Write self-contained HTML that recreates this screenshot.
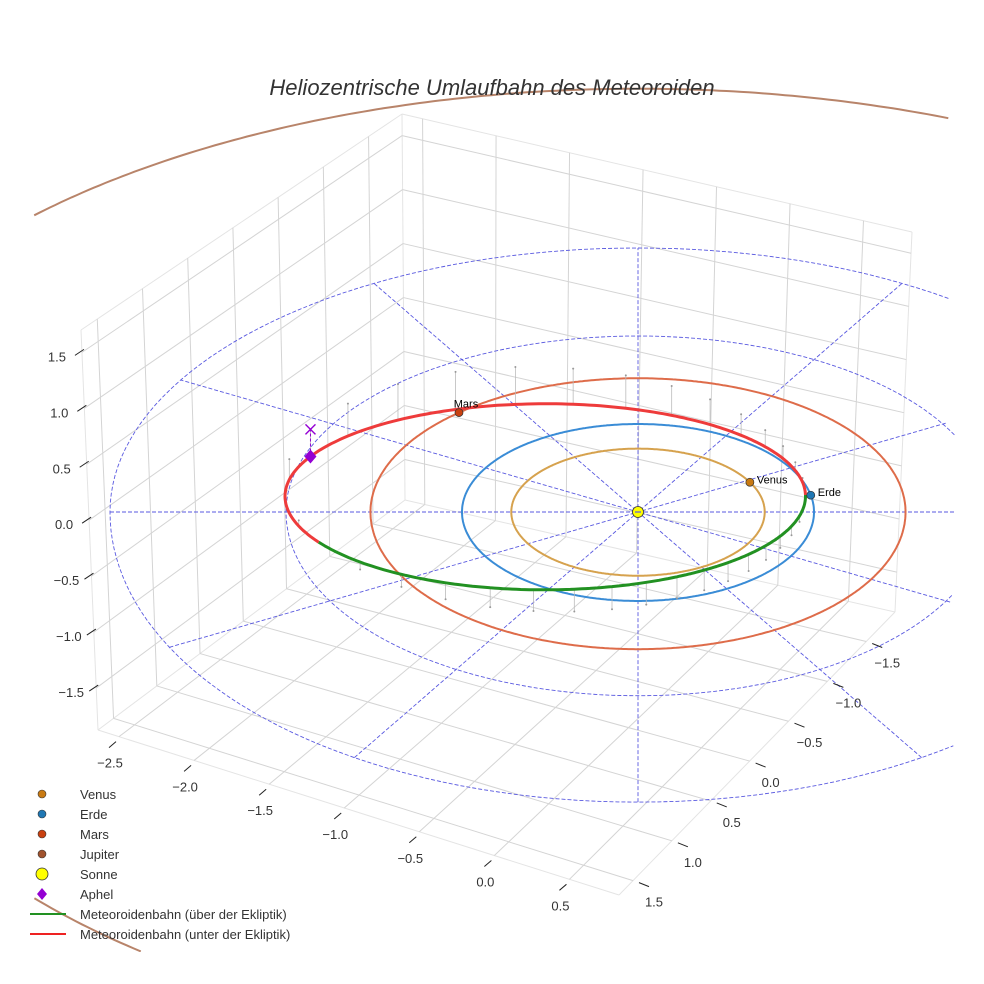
<!DOCTYPE html>
<html><head><meta charset="utf-8"><style>
html,body{margin:0;padding:0;background:#fff;width:984px;height:984px;overflow:hidden;}
svg{display:block;font-family:"Liberation Sans",sans-serif;}
</style></head><body>
<svg id="chart" width="984" height="984" viewBox="0 0 984 984" xmlns="http://www.w3.org/2000/svg">
<defs><clipPath id="axclip"><rect x="30" y="0" width="925" height="952"/></clipPath></defs>
<rect x="0" y="0" width="984" height="984" fill="#fff"/>
<g id="box"></g>
<g id="plot" clip-path="url(#axclip)"></g>
<g id="ticks"></g>
<text x="492" y="95" text-anchor="middle" font-size="22" font-style="italic" fill="#333">Heliozentrische Umlaufbahn des Meteoroiden</text>
<g id="legend"></g>
</svg>
<script>
// ---- data ----
const xTicks=[-2.5,-2.0,-1.5,-1.0,-0.5,0.0,0.5];
const yTicks=[-1.5,-1.0,-0.5,0.0,0.5,1.0,1.5];
const zTicks=[-1.5,-1.0,-0.5,0.0,0.5,1.0,1.5];
const xRange=[-2.64,0.83];
const yRange=[-1.87,1.68];
const zRange=[-1.875,1.7];
const planetNames=['Venus','Erde','Mars','Jupiter'];
const orbitRadii=[0.72,1.0,1.52,4.81];
const planetAngles=[28,11,132,null];
const gridRadii=[1,2,3];
const spokeAngles=[0,30,60,90,120,150];
const meteorP=[1.27];          // semi-latus rectum (AU)
const meteorE=[0.395];         // eccentricity
const meteorOmega=[-38];       // argument of perihelion (deg)
const meteorNode=[10.7];       // ascending node (deg)
const meteorIncl=[-11];        // inclination (deg)
const legendLabels=['Venus','Erde','Mars','Jupiter','Sonne','Aphel','Meteoroidenbahn (über der Ekliptik)','Meteoroidenbahn (unter der Ekliptik)'];

// ---- projection ----
const SX0=638,SY0=512,KX=176,KY=88,KZ=110,QP=0.011;
function proj(U,V,Z){const g=V<0?1+QP*V*V:1;return [SX0+KX*U*g, SY0-KY*V*g-KZ*Z*g];}
const rad=d=>d*Math.PI/180;
const NS='http://www.w3.org/2000/svg';
function mk(tag,attrs,parent){const e=document.createElementNS(NS,tag);for(const k in attrs)e.setAttribute(k,attrs[k]);parent.appendChild(e);return e;}
function ptsStr(a){return a.map(p=>p[0].toFixed(1)+','+p[1].toFixed(1)).join(' ');}
const inside=p=>p[0]>=30&&p[0]<=955&&p[1]>=0&&p[1]<=952;
function splitIn(a){const out=[];let cur=[];a.forEach(p=>{if(inside(p))cur.push(p);else{if(cur.length>1)out.push(cur);cur=[];}});if(cur.length>1)out.push(cur);return out;}

const LF=[98,730],RF=[619,895],RB=[895,612],LB=[405,500],LBt=[402,114],LFt=[81,330],RBt=[912,232];
const floorQ=[LF,RF,RB,LB], leftQ=[LF,LB,LBt,LFt], backQ=[LB,RB,RBt,LBt];
function bil(q,s,t){return [0,1].map(i=>(1-s)*(1-t)*q[0][i]+s*(1-t)*q[1][i]+s*t*q[2][i]+(1-s)*t*q[3][i]);}
const xs=x=>(x-xRange[0])/(xRange[1]-xRange[0]);
const ysF=y=>(yRange[1]-y)/(yRange[1]-yRange[0]);
const zs=z=>(z-zRange[0])/(zRange[1]-zRange[0]);

const box=document.getElementById('box');
function gline(a,b,name,col){const l=mk('line',{x1:a[0],y1:a[1],x2:b[0],y2:b[1],stroke:col||'#d4d4d4','stroke-width':1},box);

}
[[LF,RF],[RF,RB],[RB,LB],[LB,LF],[LB,LBt],[LBt,LFt],[LFt,LF],[RB,RBt],[RBt,LBt]].forEach(e=>gline(e[0],e[1],'pane-edge','#e4e4e4'));
xTicks.forEach(x=>{const s=xs(x);gline(bil(floorQ,s,0),bil(floorQ,s,1),'floor-grid-x');gline(bil(backQ,s,0),bil(backQ,s,1),'back-grid-x');});
yTicks.forEach(y=>{const t=ysF(y);gline(bil(floorQ,0,t),bil(floorQ,1,t),'floor-grid-y');gline(bil(leftQ,t,0),bil(leftQ,t,1),'left-grid-y');});
zTicks.forEach(z=>{const t=zs(z);gline(bil(leftQ,0,t),bil(leftQ,1,t),'left-grid-z');gline(bil(backQ,0,t),bil(backQ,1,t),'back-grid-z');});

const tk=document.getElementById('ticks');
const fmt=v=>(v<0?'\u2212':'')+Math.abs(v).toFixed(1);
function tick(E,d1,d2,lo,txt,name){
 const l=mk('line',{x1:E[0]+d1[0],y1:E[1]+d1[1],x2:E[0]+d2[0],y2:E[1]+d2[1],stroke:'#222','stroke-width':1},tk);
 
 
 const t=mk('text',{x:E[0]+lo[0],y:E[1]+lo[1]+4,'text-anchor':'middle','font-size':13,fill:'#333'},tk);
 t.textContent=txt;
 
 
}
xTicks.forEach(x=>tick(bil(floorQ,xs(x),0),[-3,5],[-10,11],[-9,27],fmt(x),'x-axis'));
yTicks.forEach(y=>tick(bil(floorQ,1,ysF(y)),[6,2],[16,6],[21,22],fmt(y),'y-axis'));
zTicks.forEach(z=>tick(bil(leftQ,0,zs(z)),[-7,3],[2,-3],[-25,5],fmt(z),'z-axis'));

const plot=document.getElementById('plot');
const dashCol='#5a5ae0';
gridRadii.forEach(r=>{const a=[];for(let d=0;d<=360;d+=2)a.push(proj(r*Math.cos(rad(d)),r*Math.sin(rad(d)),0));
 splitIn(a).forEach(seg=>{
 const e=mk('polyline',{points:ptsStr(seg),fill:'none',stroke:dashCol,'stroke-width':0.9,'stroke-dasharray':'4 2'},plot);
 
 });});
spokeAngles.forEach(d=>{const R=gridRadii[gridRadii.length-1];const a=[];for(let k=-40;k<=40;k++){const r=R*k/40;a.push(proj(r*Math.cos(rad(d)),r*Math.sin(rad(d)),0));}
 splitIn(a).forEach(seg=>{
 const e=mk('polyline',{points:ptsStr(seg),fill:'none',stroke:dashCol,'stroke-width':0.9,'stroke-dasharray':'4 2'},plot);
 
 });});

const orbitCols=['#d6a24e','#3a8cd6','#de6c4a','#b8846a'];
const markerCols=['#c97a12','#1f77b4','#c9400f','#a0522d'];
orbitRadii.forEach((r,i)=>{const a=[];for(let d=0;d<=360;d+=0.5)a.push(proj(r*Math.cos(rad(d)),r*Math.sin(rad(d)),0));
 splitIn(a).forEach(seg=>{
 const e=mk('polyline',{points:ptsStr(seg),fill:'none',stroke:orbitCols[i],'stroke-width':2},plot);
 
 });});

function meteor(nu){const p=meteorP[0],e=meteorE[0];const r=p/(1+e*Math.cos(rad(nu)));const ph=rad(meteorOmega[0]+nu);
 const xp=r*Math.cos(ph),yp=r*Math.sin(ph);const O=rad(meteorNode[0]),I=rad(meteorIncl[0]);
 return {U:xp*Math.cos(O)-yp*Math.cos(I)*Math.sin(O),V:xp*Math.sin(O)+yp*Math.cos(I)*Math.cos(O),Z:yp*Math.sin(I)};}
for(let nu=0;nu<360;nu+=10){const m=meteor(nu);if(Math.abs(m.Z)<0.04)continue;const a=proj(m.U,m.V,m.Z),b=proj(m.U,m.V,0);
 const l=mk('line',{x1:a[0],y1:a[1],x2:b[0],y2:b[1],stroke:'#bbb','stroke-width':0.8},plot);
 
 
 const c=mk('circle',{cx:b[0],cy:b[1],r:1,fill:'#999'},plot);
 
 }
let cur=null,curPts=[];
const segs=[];
for(let nu=-180;nu<=180;nu+=1){const m=meteor(nu);const s=m.Z>=0?'above':'below';const P=proj(m.U,m.V,m.Z);
 if(s!==cur){if(curPts.length)segs.push([cur,curPts.concat([P])]);cur=s;curPts=[P];}else curPts.push(P);}
segs.push([cur,curPts]);
segs.forEach(([s,pts])=>{const e=mk('polyline',{points:ptsStr(pts),fill:'none',stroke:s==='above'?'#229122':'#ee3b3b','stroke-width':3,'stroke-linejoin':'round'},plot);
 
 });

const ap=meteor(180);const apP=proj(ap.U,ap.V,ap.Z),apE=proj(ap.U,ap.V,0);
let el=mk('line',{x1:apP[0],y1:apP[1],x2:apE[0],y2:apE[1],stroke:'#9400d3','stroke-width':1,'stroke-dasharray':'3 2'},plot);


el=mk('path',{d:`M${apE[0]-5},${apE[1]-5}L${apE[0]+5},${apE[1]+5}M${apE[0]-5},${apE[1]+5}L${apE[0]+5},${apE[1]-5}`,stroke:'#9400d3','stroke-width':1.4},plot);


el=mk('path',{d:`M${apP[0]},${apP[1]-7}L${apP[0]+6},${apP[1]}L${apP[0]},${apP[1]+7}L${apP[0]-6},${apP[1]}Z`,fill:'#9400d3'},plot);



planetAngles.forEach((d,i)=>{if(d===null)return;const r=orbitRadii[i];const P=proj(r*Math.cos(rad(d)),r*Math.sin(rad(d)),0);
 const c=mk('circle',{cx:P[0],cy:P[1],r:4,fill:markerCols[i],stroke:'#333','stroke-width':0.7},plot);
 
 
 const lbl=i===2?{x:P[0]+7,y:P[1]-5,a:'middle'}:{x:P[0]+7,y:P[1]+1,a:'start'};
 const t=mk('text',{x:lbl.x,y:lbl.y,'text-anchor':lbl.a,'font-size':11,fill:'#000'},plot);
 t.textContent=planetNames[i];
 
 });
const sun=proj(0,0,0);
el=mk('circle',{cx:sun[0],cy:sun[1],r:5.5,fill:'#ffff00',stroke:'#333','stroke-width':0.8},plot);


el=mk('line',{x1:sun[0]-3,y1:sun[1],x2:sun[0]+3,y2:sun[1],stroke:dashCol,'stroke-width':1.2},plot);



const lg=document.getElementById('legend');
legendLabels.forEach((lab,k)=>{const y=794+20*k;
 let m;
 if(k<4){m=mk('circle',{cx:42,cy:y,r:4,fill:markerCols[k],stroke:'#333','stroke-width':0.6},lg);}
 else if(k===4){m=mk('circle',{cx:42,cy:y,r:6,fill:'#ffff00',stroke:'#333','stroke-width':0.8},lg);}
 else if(k===5){m=mk('path',{d:`M42,${y-6}L47,${y}L42,${y+6}L37,${y}Z`,fill:'#9400d3'},lg);}
 else {m=mk('line',{x1:30,y1:y,x2:66,y2:y,stroke:k===6?'#229122':'#ee2222','stroke-width':2},lg);}
 
 
 const t=mk('text',{x:80,y:y+5,'font-size':13,fill:'#333'},lg);
 t.textContent=lab;
 
 });
</script>
</body></html>
